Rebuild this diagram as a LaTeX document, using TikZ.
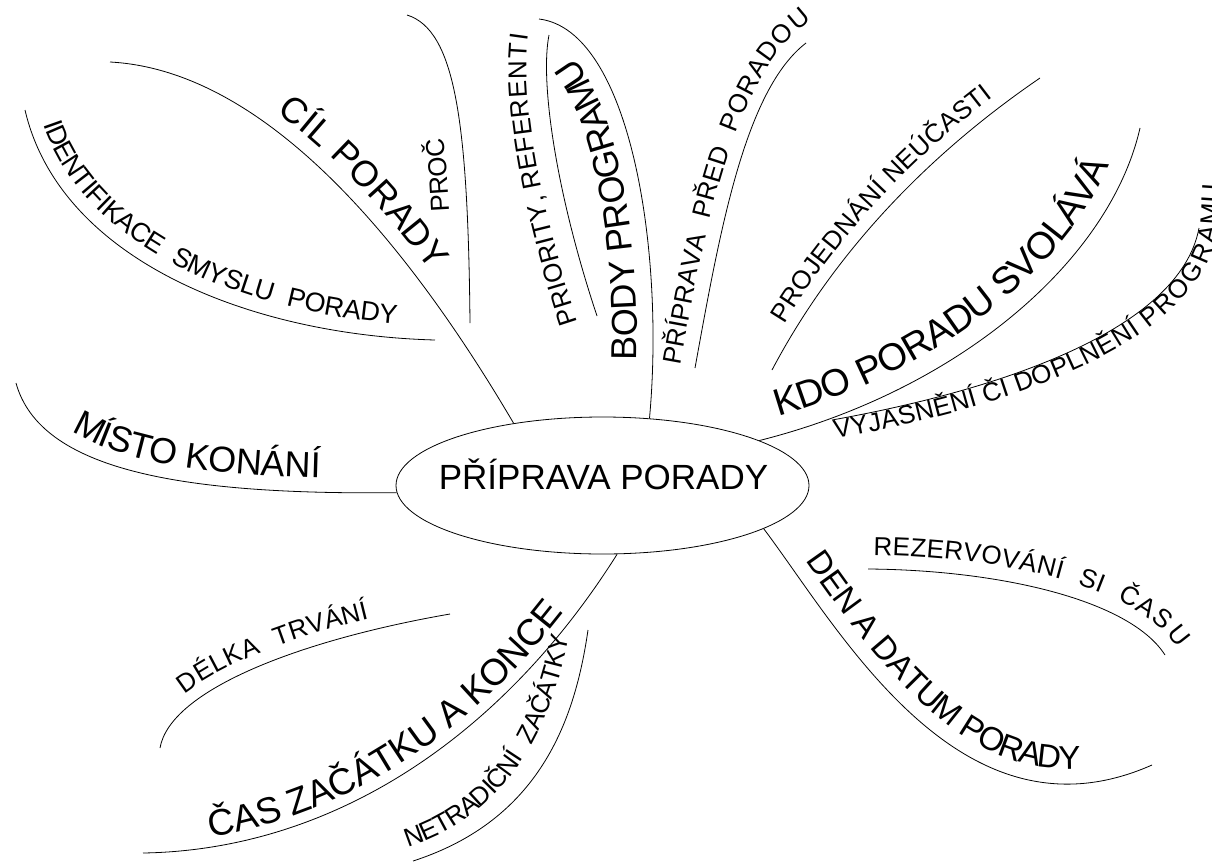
\documentclass[tikz,border=0pt]{standalone}
\usepackage{fontspec}
\setmainfont{Liberation Sans}
\usetikzlibrary{shapes.geometric,decorations.text}
\newcommand\hubfont{\fontsize{35}{40}\selectfont}
\newcommand\bigfont{\fontsize{36}{40}\selectfont}
\newcommand\largefont{\fontsize{38}{42}\selectfont}
\newcommand\datefont{\fontsize{33}{38}\selectfont}
\newcommand\smallfont{\fontsize{26}{30}\selectfont}
\newcommand\gap{{\hspace*{16pt}}}
\tikzset{
  branch/.style={line width=0.8pt},
  hub/.style={draw,ellipse,line width=0.8pt,minimum width=413pt,minimum height=137pt,inner sep=0pt},
  along/.style n args={4}{postaction={decorate,decoration={text along path,
      text={|#1|#2},text align={left indent=#3},raise=#4}}}
}

\begin{document}
\begin{tikzpicture}[x=1pt,y=-1pt]
    \useasboundingbox (0,0) rectangle (1212,865);
    \node[hub] (hub) at (602.5,485.5) {};
    \node[anchor=base] (hubtext) at (603.5,489) {\hubfont PŘÍPRAVA PORADY};

    \coordinate (cil) at (110,62);
    \coordinate (proc1) at (470,323);
    \coordinate (proc2) at (407,15);
    \coordinate (ident1) at (25,110);
    \coordinate (ident2) at (435,340);
    \coordinate (body) at (539,19);
    \coordinate (prio1) at (597,316);
    \coordinate (prio2) at (549,35);
    \coordinate (prip1) at (695,368);
    \coordinate (prip2) at (806,43);
    \coordinate (kdo) at (1140,128);
    \coordinate (proj1) at (772,370);
    \coordinate (proj2) at (1040,78);
    \coordinate (vyj1) at (832,420);
    \coordinate (vyj2) at (1199,228);
    \coordinate (misto) at (16,383);
    \coordinate (cas) at (143,853);
    \coordinate (delka1) at (160,748);
    \coordinate (delka2) at (450,614);
    \coordinate (netr1) at (413,861);
    \coordinate (netr2) at (588,630);
    \coordinate (den) at (1152,765);
    \coordinate (rez1) at (868,569);
    \coordinate (rez2) at (1165,655);

    \draw[branch,along={\bigfont}{CÍL PORADY}{172pt}{15pt}] (cil) .. controls (260,70) and (400,230) .. (hub.145.5);
    \draw[branch,along={\smallfont}{PROČ}{112pt}{18pt}] (proc1) .. controls (468,120) and (455,30) .. (proc2);
    \draw[branch,along={\fontsize{27}{30}\selectfont}{IDENTIFIKACE\gap SMYSLU\gap PORADY}{20pt}{14pt}] (ident1) .. controls (60,260) and (250,335) .. (ident2);

    \draw[branch,along={\bigfont}{BODY PROGRAMU}{58pt}{16pt}] (hub.55.2) .. controls (665,250) and (630,30) .. (body);
    \draw[branch,along={\smallfont}{PRIORITY, REFERENTI}{0pt}{20pt}] (prio1) .. controls (555,190) and (540,80) .. (prio2);
    \draw[branch] (prip1) .. controls (720,230) and (745,90) .. (prip2);
    \path[along={\smallfont}{PŘÍPRAVA\gap PŘED\gap PORADOU}{0pt}{15pt}] (prip1) .. controls (720,230) and (750,60) .. (840,20);

    \draw[branch,along={\largefont}{KDO PORADU SVOLÁVÁ}{25pt}{18pt}] (hub.16.75) .. controls (960,390) and (1110,260) .. (kdo);
    \draw[branch,along={\smallfont}{PROJEDNÁNÍ NEÚČASTI}{45pt}{12pt}] (proj1) .. controls (830,260) and (920,160) .. (proj2);
    \draw[branch] (vyj1) .. controls (1000,390) and (1180,330) .. (vyj2);
    \path[along={\smallfont}{VYJASNĚNÍ ČI DOPLNĚNÍ PROGRAMU}{0pt}{-19pt}] (vyj1) .. controls (1000,390) and (1180,330) .. (vyj2) -- ++(4,-60);

    \draw[branch,along={\bigfont}{MÍSTO KONÁNÍ}{80pt}{14pt}] (misto) .. controls (40,470) and (180,495) .. (hub.182.4);

    \draw[branch,along={\fontsize{37}{42}\selectfont}{ČAS ZAČÁTKU A KONCE}{70pt}{10pt}] (cas) .. controls (330,850) and (500,740) .. (hub.282);
    \draw[branch,along={\smallfont}{DÉLKA\gap TRVÁNÍ}{55pt}{12pt}] (delka1) .. controls (170,690) and (300,640) .. (delka2);
    \draw[branch] (netr1) .. controls (540,820) and (575,720) .. (netr2);
    \path[along={\smallfont}{NETRADIČNÍ\gap ZAČÁTKY}{0pt}{15pt}] (netr1) .. controls (540,820) and (578,700) .. (592,590);

    \draw[branch,along={\datefont}{DEN A DATUM PORADY}{50pt}{15pt}] (hub.345.8) .. controls (840,630) and (960,850) .. (den);
    \draw[branch] (rez1) .. controls (1000,570) and (1130,600) .. (rez2);
    \path[along={\smallfont}{REZERVOVÁNÍ\gap SI\gap ČASU}{5pt}{14pt}] (rez1) .. controls (1000,570) and (1130,600) .. (rez2) -- ++(20,32);
\end{tikzpicture}
\end{document}
